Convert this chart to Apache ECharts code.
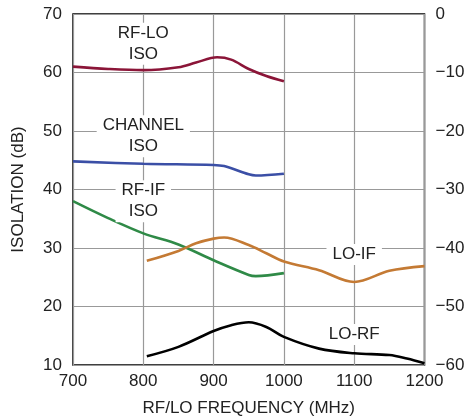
<!DOCTYPE html>
<html><head><meta charset="utf-8">
<script src="https://cdn.jsdelivr.net/npm/echarts@6/dist/echarts.min.js"></script>
<style>html,body{margin:0;padding:0;background:#fff}#c{width:464px;height:420px}</style>
</head><body><div id="c"></div>
<script>
const xTicks = [700, 800, 900, 1000, 1100, 1200];
const rfLo = [[700,61.0],[750,60.6],[800,60.4],[850,60.9],[875,61.7],[905,62.6],[925,62.2],[950,60.6],[975,59.4],[1000,58.5]];
const channel = [[700,44.8],[800,44.4],[900,44.2],[915,44.0],[950,42.6],[960,42.4],[1000,42.7]];
const rfIf = [[700,38.0],[750,35.1],[800,32.5],[850,30.6],[900,27.9],[950,25.4],[960,25.2],[1000,25.7]];
const loIf = [[805,27.8],[850,29.5],[875,30.8],[900,31.6],[915,31.8],[950,30.5],[975,29.1],[1000,27.7],[1050,26.2],[1100,24.2],[1150,26.1],[1200,26.9]];
const loRf = [[805,11.5],[850,13.1],[900,15.8],[925,16.8],[950,17.3],[975,16.5],[1000,14.8],[1050,12.8],[1100,12.0],[1150,11.7],[1175,11.1],[1200,10.3]];
const labels = [
  {text:'RF-LO\nISO', x:800, y:64.9},
  {text:'CHANNEL\nISO', x:800, y:49.1},
  {text:'RF-IF\nISO', x:800, y:38.0},
  {text:'LO-IF', x:1100, y:28.9},
  {text:'LO-RF', x:1100, y:15.2}
];
const FONT = '"Liberation Sans", Arial, sans-serif';
const chart = echarts.init(document.getElementById('c'));
function line(data, color){
  return {type:'line', data, smooth:0.35, showSymbol:false, symbol:'none',
    lineStyle:{color, width:2.6}, z:3};
}
chart.setOption({
  animation:false,
  grid:{left:73, right:39.5, top:14, bottom:55, show:true, borderColor:'#000', borderWidth:1.5,
    outerBoundsMode:'none', containLabel:false},
  xAxis:{type:'value', min:700, max:1200, interval:100,
    name:'RF/LO FREQUENCY (MHz)', nameLocation:'middle', nameGap:35,
    nameTextStyle:{fontFamily:FONT, fontSize:17, color:'#222'},
    axisLine:{show:false}, axisTick:{show:false},
    axisLabel:{fontFamily:FONT, fontSize:17, color:'#222', margin:8,
      formatter:v=>xTicks.includes(v)?String(v):''},
    splitLine:{show:true, lineStyle:{color:'#999', width:1.2}}},
  yAxis:[
    {type:'value', min:10, max:70, interval:10, position:'left',
      name:'ISOLATION (dB)', nameLocation:'middle', nameGap:46, nameRotate:90,
      nameTextStyle:{fontFamily:FONT, fontSize:17, color:'#222'},
      axisLine:{show:false}, axisTick:{show:false},
      axisLabel:{fontFamily:FONT, fontSize:17, color:'#222', margin:11},
      splitLine:{show:true, lineStyle:{color:'#999', width:1.2}}},
    {type:'value', min:-60, max:0, interval:10, position:'right',
      axisLine:{show:false}, axisTick:{show:false},
      axisLabel:{fontFamily:FONT, fontSize:17, color:'#222', margin:11,
        formatter:v=>v<0?'\u2212'+Math.abs(v):String(v)},
      splitLine:{show:false}}
  ],
  series:[
    line(rfLo,'#8b1538'),
    line(channel,'#3b4fa6'),
    line(rfIf,'#2f8a47'),
    line(loIf,'#c47a34'),
    line(loRf,'#000000')
  ]
});
const g = labels.map(l=>{
  const p = chart.convertToPixel({xAxisIndex:0, yAxisIndex:0}, [l.x, l.y]);
  return {type:'text', x:p[0], y:p[1], z:10,
    style:{text:l.text, fontFamily:FONT, fontSize:17, fill:'#222', align:'center', verticalAlign:'middle',
      lineHeight:21, backgroundColor:'#fff', padding:[0,6]}};
});
chart.setOption({graphic:g});
</script></body></html>
